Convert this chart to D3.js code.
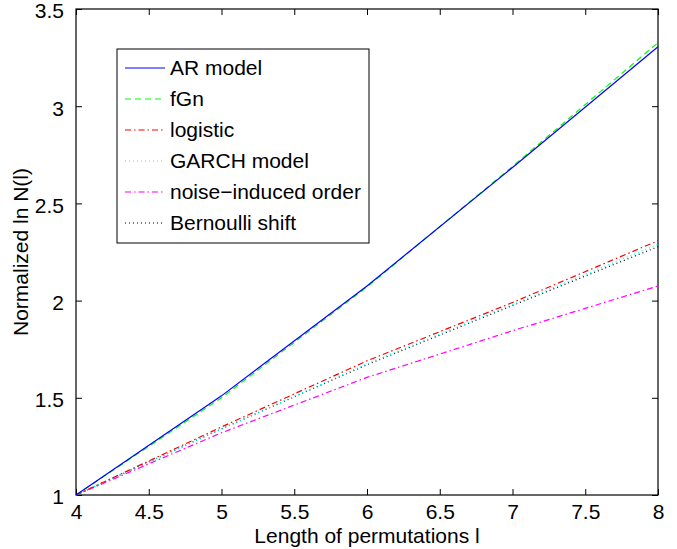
<!DOCTYPE html>
<html>
<head>
<meta charset="utf-8">
<script src="https://cdn.jsdelivr.net/npm/d3@7"></script>
<style>
  body { margin: 0; background: #fff; }
  text { font-family: "Liberation Sans", Arial, Helvetica, sans-serif; fill: #000; }
</style>
</head>
<body>
<div id="chart"></div>
<script>
////////////////////////////////////////////////////////////////
// Data

let lengths = [4, 5, 6, 7, 8]

let arModel    = [1, 1.51, 2.075, 2.685, 3.306]
let fGn        = [1, 1.50, 2.07, 2.69, 3.327]
let logistic   = [1, 1.35, 1.69, 1.99, 2.308]
let garch      = [1, 1.34, 1.675, 1.98, 2.29]
let noiseOrder = [1, 1.32, 1.605, 1.845, 2.075]
let bernoulli  = [1, 1.34, 1.67, 1.975, 2.277]

let xTicks = [4, 4.5, 5, 5.5, 6, 6.5, 7, 7.5, 8]
let yTicks = [1, 1.5, 2, 2.5, 3, 3.5]

let series = [
  { name: "AR model", values: arModel, color: "#0000ff", dash: null },
  { name: "fGn", values: fGn, color: "#00ff00", dash: "6,4" },
  { name: "logistic", values: logistic, color: "#ff0000", dash: "6,3,1.5,3" },
  { name: "GARCH model", values: garch, color: "#00ffff", dash: "1,3" },
  { name: "noise\u2212induced order", values: noiseOrder, color: "#ff00ff", dash: "6,3,1.5,3" },
  { name: "Bernoulli shift", values: bernoulli, color: "#000000", dash: "1,3" }
]

////////////////////////////////////////////////////////////////
// Set up svg and scales

let width = 677, height = 549
let pLeft = 76, pRight = 658, pTop = 9, pBottom = 495
let fontSize = "21px"

let svg = d3.select("#chart").append("svg")
  .attr("width", width)
  .attr("height", height)

let x = d3.scaleLinear().domain([4, 8]).range([pLeft, pRight])
let y = d3.scaleLinear().domain([1, 3.5]).range([pBottom, pTop])

// axes (ticks pointing inward, like matlab)
svg.append("g")
  .attr("transform", `translate(0,${pBottom})`)
  .call(d3.axisBottom(x).tickValues(xTicks).tickSizeInner(-6).tickSizeOuter(0).tickPadding(9)
    .tickFormat(d3.format("")))
svg.append("g")
  .attr("transform", `translate(0,${pTop})`)
  .call(d3.axisTop(x).tickValues(xTicks).tickSizeInner(-6).tickSizeOuter(0).tickFormat(""))
let yAxis = svg.append("g")
  .attr("transform", `translate(${pLeft},0)`)
  .call(d3.axisLeft(y).tickValues(yTicks).tickSizeInner(-6).tickSizeOuter(0).tickPadding(12)
    .tickFormat(d3.format("")))
svg.append("g")
  .attr("transform", `translate(${pRight},0)`)
  .call(d3.axisRight(y).tickValues(yTicks).tickSizeInner(-6).tickSizeOuter(0).tickFormat(""))

svg.selectAll(".domain").remove()
svg.selectAll(".tick line").attr("stroke", "#000").attr("stroke-width", 1)
svg.selectAll(".tick text").style("font-size", fontSize)
// matlab puts the y labels a hair below the tick
yAxis.selectAll(".tick text").attr("dy", "0.42em")

// frame
svg.append("rect")
  .attr("x", pLeft)
  .attr("y", pTop)
  .attr("width", pRight - pLeft)
  .attr("height", pBottom - pTop)
  .attr("fill", "none")
  .attr("stroke", "#000")
  .attr("stroke-width", 1.2)

////////////////////////////////////////////////////////////////
// Lines

let line = d3.line()
  .x((d, i) => x(lengths[i]))
  .y(d => y(d))

// draw in reverse so the AR model ends up on top
svg.selectAll("path.series")
  .data(series.slice().reverse())
  .enter()
  .append("path")
  .attr("class", "series")
  .attr("d", d => line(d.values))
  .attr("fill", "none")
  .attr("stroke", d => d.color)
  .attr("stroke-width", 1.2)
  .attr("stroke-dasharray", d => d.dash)

////////////////////////////////////////////////////////////////
// Legend

let legend = svg.append("g")

legend.append("rect")
  .attr("x", 117)
  .attr("y", 49)
  .attr("width", 252)
  .attr("height", 194)
  .attr("fill", "#fff")
  .attr("stroke", "#000")
  .attr("stroke-width", 1)

let items = legend.selectAll("g.item")
  .data(series)
  .enter()
  .append("g")
  .attr("transform", (d, i) => `translate(0,${68 + i * 31})`)

items.append("line")
  .attr("x1", 125)
  .attr("x2", 165)
  .attr("stroke", d => d.color)
  .attr("stroke-width", 1.2)
  .attr("stroke-dasharray", d => d.dash)

items.append("text")
  .attr("x", 170)
  .attr("dy", "0.35em")
  .style("font-size", fontSize)
  .text(d => d.name)

////////////////////////////////////////////////////////////////
// Axis titles

svg.append("text")
  .attr("x", (pLeft + pRight) / 2)
  .attr("y", 543)
  .attr("text-anchor", "middle")
  .style("font-size", fontSize)
  .text("Length of permutations l")

svg.append("text")
  .attr("transform", `translate(28,${(pTop + pBottom) / 2}) rotate(-90)`)
  .attr("text-anchor", "middle")
  .style("font-size", fontSize)
  .text("Normalized ln N(l)")
</script>
</body>
</html>
